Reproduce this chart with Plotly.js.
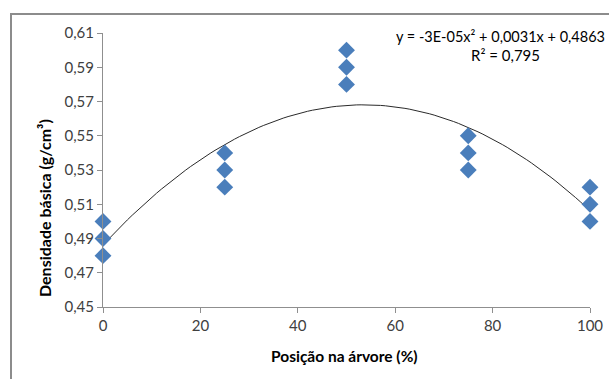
<!DOCTYPE html>
<html>
<head>
<meta charset="utf-8">
<script src="https://cdn.plot.ly/plotly-3.0.1.min.js"></script>
<style>html,body{margin:0;padding:0;background:#fff;}#chart{width:609px;height:379px;}</style>
</head>
<body>
<div id="chart"></div>
<script>
// Data
const positions = [0, 0, 0, 25, 25, 25, 50, 50, 50, 75, 75, 75, 100, 100, 100];
const density = [0.50, 0.49, 0.48, 0.54, 0.53, 0.52, 0.60, 0.59, 0.58, 0.55, 0.54, 0.53, 0.52, 0.51, 0.50];
const yTicks = [0.45, 0.47, 0.49, 0.51, 0.53, 0.55, 0.57, 0.59, 0.61];
const xTicks = [0, 20, 40, 60, 80, 100];
const xTitle = "Posição na árvore (%)";
const yTitle = "Densidade básica (g/cm³)";
const equationText = "y = -3E-05x² + 0,0031x + 0,4863";
const r2Text = "R² = 0,795";

// Least-squares quadratic fit of the data (as the spreadsheet trendline)
function polyfit2(xs, ys) {
  let S = [0,0,0,0,0], T = [0,0,0];
  for (let i = 0; i < xs.length; i++) {
    let p = 1;
    for (let k = 0; k < 5; k++) { S[k] += p; if (k < 3) T[k] += p * ys[i]; p *= xs[i]; }
  }
  const A = [[S[0],S[1],S[2],T[0]],[S[1],S[2],S[3],T[1]],[S[2],S[3],S[4],T[2]]];
  for (let i = 0; i < 3; i++) {
    for (let j = i+1; j < 3; j++) {
      const f = A[j][i] / A[i][i];
      for (let k = i; k < 4; k++) A[j][k] -= f * A[i][k];
    }
  }
  const c = [0,0,0];
  for (let i = 2; i >= 0; i--) {
    let s = A[i][3];
    for (let k = i+1; k < 3; k++) s -= A[i][k] * c[k];
    c[i] = s / A[i][i];
  }
  return c;
}
const coef = polyfit2(positions, density);
const fitX = [], fitY = [];
const xmin = Math.min(...positions), xmax = Math.max(...positions);
for (let i = 0; i <= 100; i++) {
  const x = xmin + (xmax - xmin) * i / 100;
  fitX.push(x);
  fitY.push(coef[0] + coef[1] * x + coef[2] * x * x);
}

const font = "Lato, 'Open Sans', sans-serif";
const traces = [
  {x: fitX, y: fitY, mode: 'lines', line: {color: '#2a2a2a', width: 1}, hoverinfo: 'skip', cliponaxis: false},
  {x: positions, y: density, mode: 'markers', cliponaxis: false,
   marker: {symbol: 'diamond', size: 13, color: '#4A7EBB', line: {width: 0}}}
];
const layout = {
  width: 609, height: 379,
  margin: {l: 103, r: 19, t: 33, b: 72},
  paper_bgcolor: '#ffffff', plot_bgcolor: '#ffffff',
  showlegend: false,
  separators: ',.',
  font: {family: font, size: 15, color: '#404040'},
  xaxis: {
    range: [0, 100], tickvals: xTicks, ticktext: xTicks.map(String),
    showgrid: false, zeroline: false, showline: true, linecolor: '#8f8f8f', linewidth: 1,
    ticks: 'outside', ticklen: 5, tickcolor: '#8f8f8f',
    tickfont: {family: font, size: 15, color: '#404040'}
  },
  yaxis: {
    range: [0.45, 0.61], tickvals: yTicks, ticktext: yTicks.map(v => v.toFixed(2).replace('.', ',')),
    showgrid: false, zeroline: false, showline: true, linecolor: '#8f8f8f', linewidth: 1,
    ticks: 'outside', ticklen: 5, tickcolor: '#8f8f8f',
    tickfont: {family: font, size: 15, color: '#404040'}
  },
  annotations: [
    {xref: 'paper', yref: 'paper', x: (344 - 103) / 487, y: (307 - 356) / 274, xanchor: 'center', yanchor: 'middle',
     text: '<b>' + xTitle + '</b>', showarrow: false, font: {family: font, size: 15.5, color: '#000000'}},
    {xref: 'paper', yref: 'paper', x: (45 - 103) / 487, y: (307 - 208) / 274, xanchor: 'center', yanchor: 'middle',
     textangle: -90, text: '<b>' + yTitle + '</b>', showarrow: false, font: {family: font, size: 16, color: '#000000'}},
    {xref: 'paper', yref: 'paper', x: (394 - 103) / 487, y: (307 - 36) / 274, xanchor: 'left', yanchor: 'middle',
     text: equationText, showarrow: false, font: {family: font, size: 14.5, color: '#000000'}},
    {xref: 'paper', yref: 'paper', x: (505 - 103) / 487, y: (307 - 55) / 274, xanchor: 'center', yanchor: 'middle',
     text: r2Text, showarrow: false, font: {family: font, size: 15, color: '#000000'}}
  ],
  shapes: [
    {type: 'rect', xref: 'paper', yref: 'paper',
     x0: (11 - 103) / 487, x1: (640 - 103) / 487, y0: (307 - 400) / 274, y1: (307 - 14) / 274,
     line: {color: '#8c8c8c', width: 2}, fillcolor: 'rgba(0,0,0,0)', layer: 'below'}
  ]
};
Plotly.newPlot('chart', traces, layout, {displayModeBar: false, staticPlot: true});
</script>
</body>
</html>
